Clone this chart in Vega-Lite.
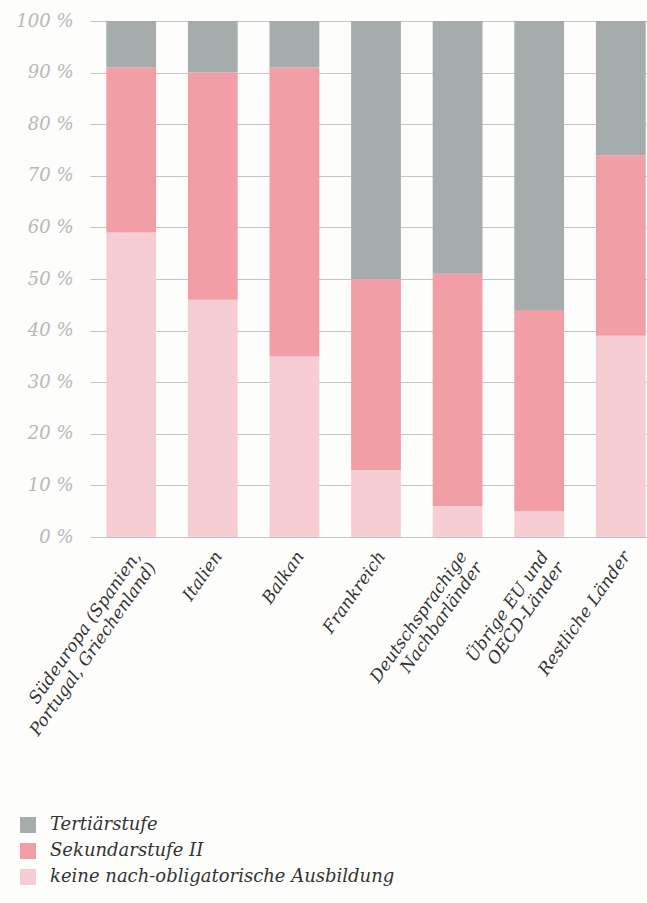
{
  "$schema": "https://vega.github.io/schema/vega-lite/v6.json",
  "autosize": "none",
  "width": 572,
  "height": 516,
  "padding": {"left": 90, "top": 21, "right": 0, "bottom": 366},
  "background": "#fdfdfb",
  "config": {"view": {"stroke": null}, "font": "DejaVu Serif"},
  "data": {
    "values": [
      {"region": "Südeuropa (Spanien,|Portugal, Griechenland)", "level": "keine nach-obligatorische Ausbildung", "rank": 1, "pct": 59},
      {"region": "Südeuropa (Spanien,|Portugal, Griechenland)", "level": "Sekundarstufe II", "rank": 2, "pct": 32},
      {"region": "Südeuropa (Spanien,|Portugal, Griechenland)", "level": "Tertiärstufe", "rank": 3, "pct": 9},
      {"region": "Italien", "level": "keine nach-obligatorische Ausbildung", "rank": 1, "pct": 46},
      {"region": "Italien", "level": "Sekundarstufe II", "rank": 2, "pct": 44},
      {"region": "Italien", "level": "Tertiärstufe", "rank": 3, "pct": 10},
      {"region": "Balkan", "level": "keine nach-obligatorische Ausbildung", "rank": 1, "pct": 35},
      {"region": "Balkan", "level": "Sekundarstufe II", "rank": 2, "pct": 56},
      {"region": "Balkan", "level": "Tertiärstufe", "rank": 3, "pct": 9},
      {"region": "Frankreich", "level": "keine nach-obligatorische Ausbildung", "rank": 1, "pct": 13},
      {"region": "Frankreich", "level": "Sekundarstufe II", "rank": 2, "pct": 37},
      {"region": "Frankreich", "level": "Tertiärstufe", "rank": 3, "pct": 50},
      {"region": "Deutschsprachige|Nachbarländer", "level": "keine nach-obligatorische Ausbildung", "rank": 1, "pct": 6},
      {"region": "Deutschsprachige|Nachbarländer", "level": "Sekundarstufe II", "rank": 2, "pct": 45},
      {"region": "Deutschsprachige|Nachbarländer", "level": "Tertiärstufe", "rank": 3, "pct": 49},
      {"region": "Übrige EU und|OECD-Länder", "level": "keine nach-obligatorische Ausbildung", "rank": 1, "pct": 5},
      {"region": "Übrige EU und|OECD-Länder", "level": "Sekundarstufe II", "rank": 2, "pct": 39},
      {"region": "Übrige EU und|OECD-Länder", "level": "Tertiärstufe", "rank": 3, "pct": 56},
      {"region": "Restliche Länder", "level": "keine nach-obligatorische Ausbildung", "rank": 1, "pct": 39},
      {"region": "Restliche Länder", "level": "Sekundarstufe II", "rank": 2, "pct": 35},
      {"region": "Restliche Länder", "level": "Tertiärstufe", "rank": 3, "pct": 26}
    ]
  },
  "mark": {"type": "bar"},
  "encoding": {
    "x": {
      "field": "region",
      "type": "nominal",
      "sort": null,
      "scale": {"paddingInner": 0.39, "paddingOuter": 0.2},
      "axis": {
        "title": null,
        "domain": false,
        "ticks": false,
        "labelExpr": "split(datum.label, '|')",
        "labelAngle": -55,
        "labelAlign": "right",
        "labelBaseline": "middle",
        "labelPadding": 16,
        "labelOffset": 6,
        "labelFont": "DejaVu Serif",
        "labelFontStyle": "italic",
        "labelFontSize": 17,
        "labelColor": "#333333",
        "labelLineHeight": 19,
        "labelLimit": 400
      }
    },
    "y": {
      "field": "pct",
      "type": "quantitative",
      "stack": "zero",
      "scale": {"domain": [0, 100], "nice": false},
      "axis": {
        "title": null,
        "domain": false,
        "ticks": false,
        "values": [0, 10, 20, 30, 40, 50, 60, 70, 80, 90, 100],
        "labelExpr": "datum.value + ' %'",
        "labelPadding": 17,
        "labelFont": "DejaVu Serif",
        "labelFontStyle": "italic",
        "labelFontSize": 18,
        "labelColor": "#b8b8b8",
        "grid": true,
        "gridColor": "#c4c4c4",
        "gridWidth": 1.2
      }
    },
    "color": {
      "field": "level",
      "type": "nominal",
      "scale": {
        "domain": ["Tertiärstufe", "Sekundarstufe II", "keine nach-obligatorische Ausbildung"],
        "range": ["#a6abab", "#f29ea7", "#f7cdd4"]
      },
      "legend": {
        "title": null,
        "orient": "none",
        "legendX": -71,
        "legendY": 795,
        "symbolType": "square",
        "symbolSize": 256,
        "symbolStrokeWidth": 0,
        "labelFont": "DejaVu Serif",
        "labelFontStyle": "italic",
        "labelFontSize": 18,
        "labelColor": "#333333",
        "labelOffset": 13,
        "rowPadding": 8,
        "labelLimit": 500
      }
    },
    "order": {"field": "rank", "type": "quantitative"}
  }
}
